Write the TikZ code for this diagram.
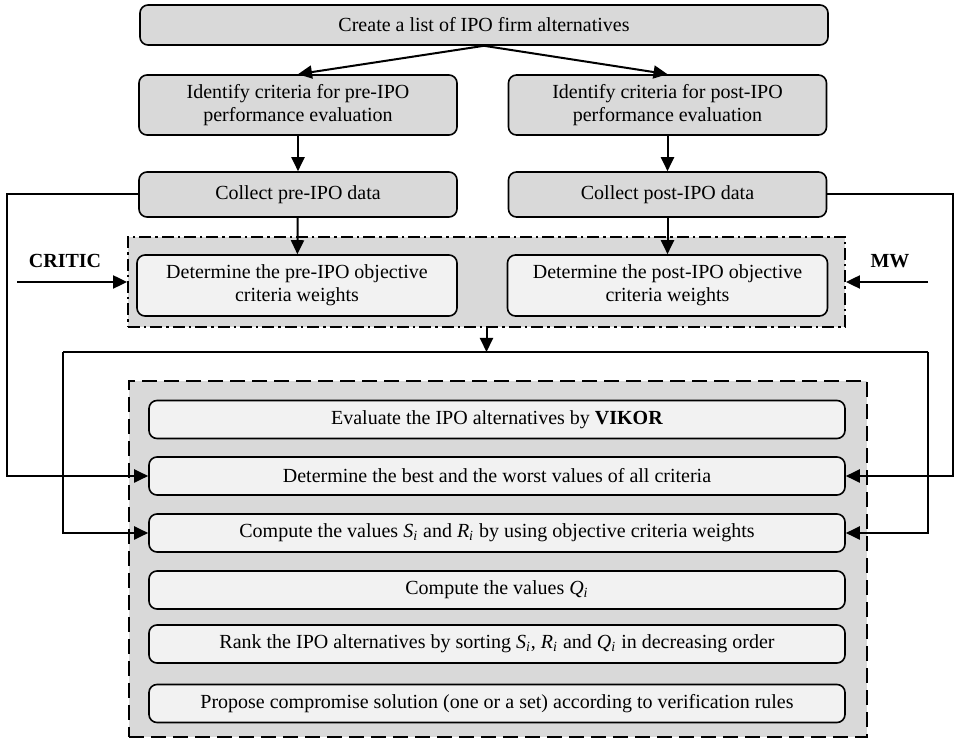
\documentclass[tikz,border=0pt]{standalone}
\usepackage{fontspec}
\setmainfont{Liberation Serif}
\usetikzlibrary{arrows.meta}
\definecolor{boxgray}{HTML}{D9D9D9}
\definecolor{stepgray}{HTML}{F2F2F2}
\newcommand{\ival}[1]{\textit{#1}\textsubscript{\textit{i}}}

\begin{document}
\begin{tikzpicture}[x=0.5pt,y=-0.5pt,
  font=\fontsize{10}{11.5}\selectfont,
  box/.style={draw,rounded corners=4pt,line width=0.8pt,fill=boxgray,align=center,inner sep=0pt},
  inbox/.style={box,fill=stepgray},
  wide/.style={inbox,minimum width=348pt,minimum height=19pt},
  link/.style={line width=1pt,-{Triangle[length=7pt,width=6.5pt]}},
  ]
\useasboundingbox (0,0) rectangle (955,742);

% groups
\node[draw,fill=boxgray,line width=0.9pt,dash pattern=on 6pt off 2pt on 1.2pt off 2pt,
      minimum width=358.5pt,minimum height=45pt] (wgrp) at (486.5,282) {};
\node[draw,fill=boxgray,line width=0.9pt,dash pattern=on 7.5pt off 3.5pt,
      minimum width=369pt,minimum height=178pt] (vgrp) at (498,559) {};

\node[box,minimum width=344pt,minimum height=20pt] (list) at (484,25) {Create a list of IPO firm alternatives};
\node[box,minimum width=159pt,minimum height=30pt] (idpre) at (298,105) {Identify criteria for pre-IPO\\performance evaluation};
\node[box,minimum width=159pt,minimum height=30pt] (idpost) at (667.5,105) {Identify criteria for post-IPO\\performance evaluation};
\node[box,minimum width=159pt,minimum height=22.5pt] (colpre) at (298,194.5) {Collect pre-IPO data};
\node[box,minimum width=159pt,minimum height=22.5pt] (colpost) at (667.5,194.5) {Collect post-IPO data};
\node[inbox,minimum width=160pt,minimum height=30.5pt] (wpre) at (297,285.5) {Determine the pre-IPO objective\\criteria weights};
\node[inbox,minimum width=160pt,minimum height=30.5pt] (wpost) at (667.5,285.5) {Determine the post-IPO objective\\criteria weights};
\node[font=\fontsize{10}{11.5}\selectfont\bfseries] (critic) at (65,261) {CRITIC};
\node[font=\fontsize{10}{11.5}\selectfont\bfseries] (mw) at (890,261) {MW};

\node[wide] (eval) at (497,419.5) {Evaluate the IPO alternatives by \textbf{VIKOR}};
\node[wide] (best) at (497,476) {Determine the best and the worst values of all criteria};
\node[wide] (sr) at (497,533) {Compute the values \ival{S} and \ival{R} by using objective criteria weights};
\node[wide] (q) at (497,590) {Compute the values \ival{Q}};
\node[wide] (rank) at (497,644) {Rank the IPO alternatives by sorting \ival{S}, \ival{R} and \ival{Q} in decreasing order};
\node[wide] (prop) at (497,703.5) {Propose compromise solution (one or a set) according to verification rules};

\coordinate (lout) at (7,0);
\coordinate (rout) at (953,0);
\coordinate (cin) at (17,282);
\coordinate (min) at (928,282);
\coordinate (split) at (486.5,352);
\coordinate (lin) at (63,352);
\coordinate (rin) at (928,352);

% arrows
\draw[link] (list.south) -- (idpre.north);
\draw[link] (list.south) -- (idpost.north);
\draw[link] (idpre) -- (colpre);
\draw[link] (idpost) -- (colpost);
\draw[link] (colpre) -- (wpre);
\draw[link] (colpost) -- (wpost);
\draw[link] (cin) -- (wgrp.west);
\draw[link] (min) -- (wgrp.east);
\draw[link] (colpre.west) -- (colpre.west -| lout) |- (best.west);
\draw[link] (colpost.east) -- (colpost.east -| rout) |- (best.east);
\draw[link] (wgrp.south) -- (split);
\draw[line width=1pt] (lin) -- (rin);
\draw[link] (lin) |- (sr.west);
\draw[link] (rin) |- (sr.east);
\end{tikzpicture}
\end{document}
